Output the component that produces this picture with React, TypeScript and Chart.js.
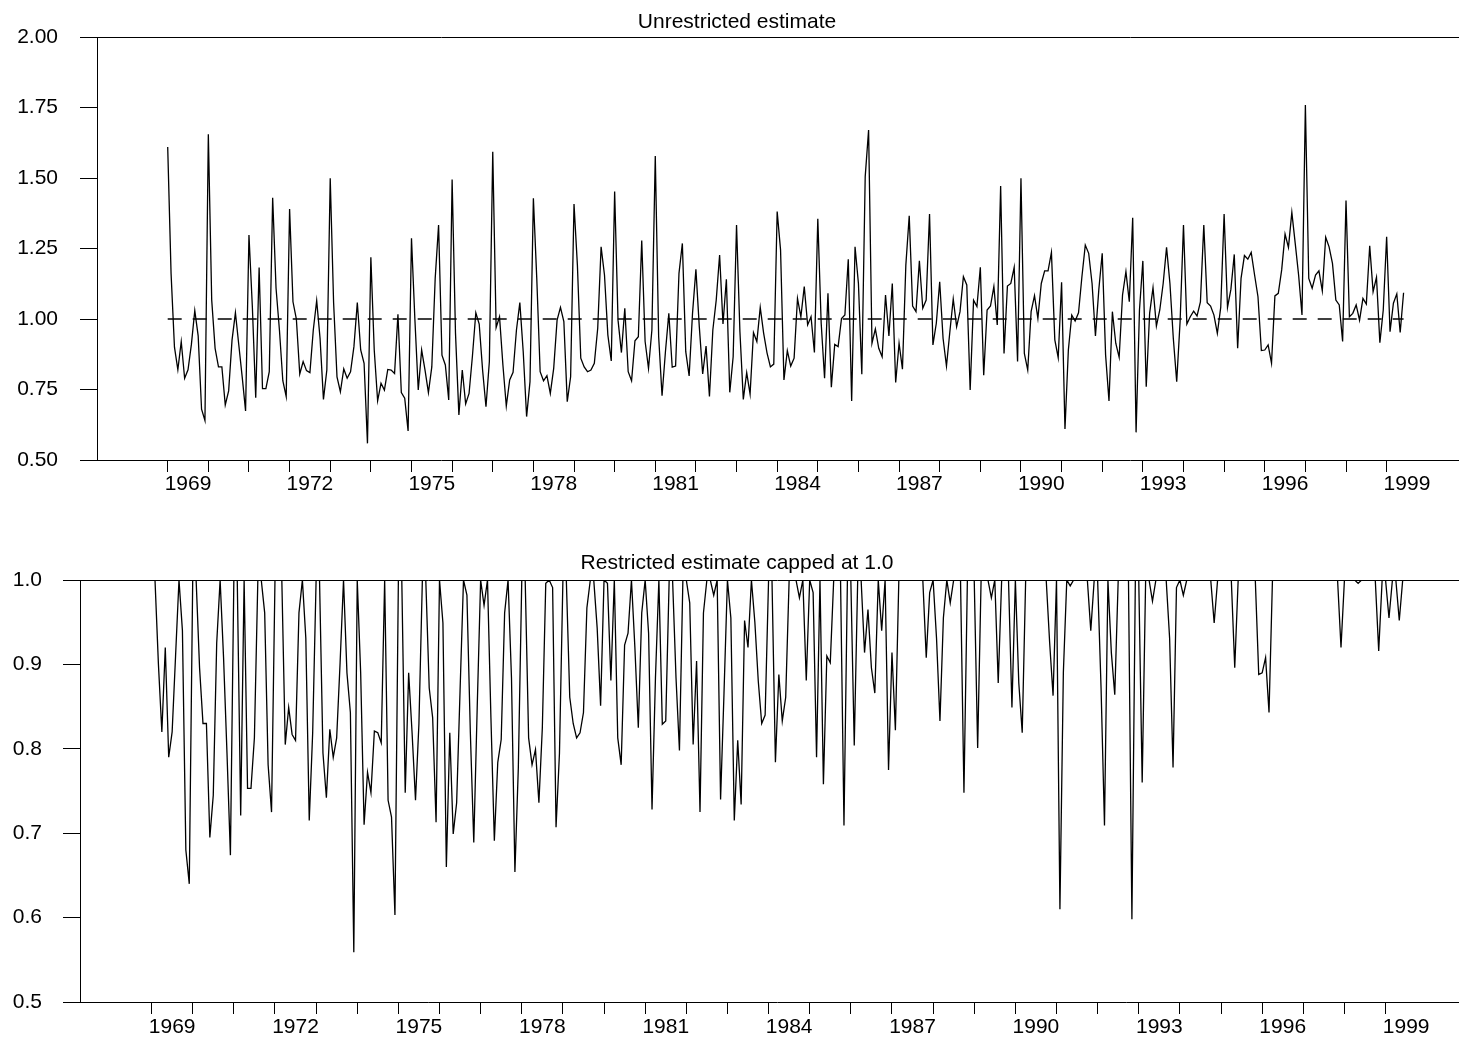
import React, { useEffect, useRef } from "react";
import { Chart, registerables } from "chart.js";

Chart.register(...registerables);

// ---------------- data ----------------
const START_YEAR = 1969; // first observation: January 1969, monthly series

// Unrestricted estimate, monthly Jan 1969 .. Jun 1999
const unrestricted: number[] = [
  // 1969
  1.61, 1.16, 0.9, 0.82, 0.92, 0.79, 0.82, 0.91, 1.03, 0.94, 0.68, 0.64,
  // 1970
  1.655, 1.067, 0.896, 0.83, 0.83, 0.695, 0.745, 0.925, 1.022, 0.908, 0.795, 0.674,
  // 1971
  1.298, 1.044, 0.721, 1.183, 0.753, 0.753, 0.813, 1.43, 1.109, 0.961, 0.781, 0.725,
  // 1972
  1.39, 1.061, 1.0, 0.805, 0.849, 0.817, 0.81, 0.961, 1.065, 0.931, 0.715, 0.819,
  // 1973
  1.499, 1.058, 0.795, 0.742, 0.823, 0.79, 0.813, 0.902, 1.058, 0.89, 0.843, 0.559,
  // 1974
  1.219, 0.89, 0.71, 0.772, 0.748, 0.821, 0.819, 0.807, 1.017, 0.739, 0.719, 0.603,
  // 1975
  1.286, 1.0, 0.748, 0.89, 0.819, 0.739, 0.83, 1.144, 1.333, 0.872, 0.837, 0.713,
  // 1976
  1.495, 0.949, 0.66, 0.819, 0.699, 0.736, 0.869, 1.022, 0.982, 0.819, 0.689, 0.849,
  // 1977
  1.593, 0.97, 1.008, 0.837, 0.691, 0.784, 0.811, 0.961, 1.058, 0.884, 0.654, 0.778,
  // 1978
  1.428, 1.144, 0.813, 0.781, 0.799, 0.736, 0.825, 0.996, 1.041, 0.991, 0.707, 0.795,
  // 1979
  1.408, 1.191, 0.861, 0.83, 0.813, 0.819, 0.843, 0.967, 1.256, 1.156, 0.943, 0.851,
  // 1980
  1.452, 0.996, 0.881, 1.038, 0.813, 0.781, 0.923, 0.937, 1.278, 0.92, 0.825, 0.961,
  // 1981
  1.578, 0.937, 0.728, 0.884, 1.02, 0.829, 0.833, 1.162, 1.268, 0.884, 0.798, 1.02,
  // 1982
  1.176, 0.973, 0.805, 0.904, 0.725, 0.961, 1.067, 1.227, 0.982, 1.141, 0.74, 0.866,
  // 1983
  1.333, 0.955, 0.715, 0.81, 0.734, 0.952, 0.92, 1.041, 0.95, 0.88, 0.83, 0.84,
  // 1984
  1.381, 1.245, 0.784, 0.888, 0.833, 0.861, 1.073, 1.008, 1.115, 0.979, 1.008, 0.881,
  // 1985
  1.355, 0.985, 0.79, 1.091, 0.758, 0.91, 0.902, 1.002, 1.014, 1.212, 0.709, 1.256,
  // 1986
  1.126, 0.804, 1.505, 1.67, 0.914, 0.965, 0.896, 0.866, 1.085, 0.94, 1.126, 0.775,
  // 1987
  0.914, 0.822, 1.191, 1.366, 1.046, 1.026, 1.206, 1.038, 1.067, 1.372, 0.908, 0.985,
  // 1988
  1.132, 0.931, 0.833, 0.955, 1.071, 0.973, 1.026, 1.15, 1.121, 0.748, 1.067, 1.044,
  // 1989
  1.183, 0.801, 1.032, 1.046, 1.115, 0.979, 1.472, 0.878, 1.117, 1.126, 1.183, 0.849,
  // 1990
  1.499, 0.878, 0.819, 1.026, 1.083, 1.002, 1.126, 1.171, 1.171, 1.236, 0.926, 0.863,
  // 1991
  1.13, 0.61, 0.89, 1.014, 0.993, 1.022, 1.15, 1.262, 1.233, 1.126, 0.94, 1.105,
  // 1992
  1.233, 0.872, 0.709, 1.026, 0.914, 0.864, 1.085, 1.168, 1.061, 1.359, 0.598, 1.032,
  // 1993
  1.206, 0.76, 1.02, 1.111, 0.975, 1.032, 1.126, 1.254, 1.126, 0.931, 0.778, 0.991,
  // 1994
  1.333, 0.982, 1.008, 1.028, 1.011, 1.061, 1.333, 1.058, 1.046, 1.014, 0.949, 1.041,
  // 1995
  1.372, 1.041, 1.105, 1.229, 0.896, 1.144, 1.225, 1.212, 1.236, 1.156, 1.079, 0.888,
  // 1996
  0.89, 0.908, 0.843, 1.082, 1.091, 1.174, 1.301, 1.254, 1.378, 1.268, 1.156, 1.014,
  // 1997
  1.759, 1.144, 1.109, 1.156, 1.171, 1.1, 1.29, 1.256, 1.197, 1.067, 1.05, 0.92,
  // 1998
  1.42, 1.008, 1.02, 1.05, 0.996, 1.073, 1.053, 1.26, 1.097, 1.148, 0.916, 1.032,
  // 1999
  1.292, 0.955, 1.056, 1.089, 0.952, 1.093,
];

// Restricted estimate: the same series capped at 1.0
const CAP = 1.0;
const restricted: number[] = unrestricted.map((v) => Math.min(v, CAP));

const REF_LEVEL = 1.0; // dashed reference line in the upper panel

const tickYears: number[] = [
  1969, 1970, 1971, 1972, 1973, 1974, 1975, 1976, 1977, 1978, 1979, 1980, 1981,
  1982, 1983, 1984, 1985, 1986, 1987, 1988, 1989, 1990, 1991, 1992, 1993, 1994,
  1995, 1996, 1997, 1998, 1999,
];
const labelYears: number[] = [1969, 1972, 1975, 1978, 1981, 1984, 1987, 1990, 1993, 1996, 1999];

const topYTicks: number[] = [0.5, 0.75, 1.0, 1.25, 1.5, 1.75, 2.0];
const bottomYTicks: number[] = [0.5, 0.6, 0.7, 0.8, 0.9, 1.0];

const TOP_TITLE = "Unrestricted estimate";
const BOTTOM_TITLE = "Restricted estimate capped at 1.0";

// ---------------- layout ----------------
const X_MIN = 1967.26;
const X_MAX = 2001.15;
const CANVAS_W = 1474;
const FONT_FAMILY = "'Liberation Sans', Arial, Helvetica, sans-serif";
const FONT_SIZE = 21;
const LINE_W = 1.3;

type PanelSpec = {
  title: string;
  values: number[];
  yMin: number;
  yMax: number;
  yTicks: number[];
  decimals: number;
  refLine: boolean;
  top: number;
  height: number;
  plotLeft: number;
  plotBottom: number;
  titlePadTop: number;
  titlePadBottom: number;
  yLabelPad: number;
  xLabelPad: number;
};

const panels: PanelSpec[] = [
  {
    title: TOP_TITLE,
    values: unrestricted,
    yMin: 0.5,
    yMax: 2.0,
    yTicks: topYTicks,
    decimals: 2,
    refLine: true,
    top: 0,
    height: 520,
    plotLeft: 97,
    plotBottom: 460,
    titlePadTop: 9.4,
    titlePadBottom: 2.4,
    yLabelPad: 22,
    xLabelPad: 0,
  },
  {
    title: BOTTOM_TITLE,
    values: restricted,
    yMin: 0.5,
    yMax: 1.0,
    yTicks: bottomYTicks,
    decimals: 1,
    refLine: false,
    top: 520,
    height: 519,
    plotLeft: 80,
    plotBottom: 482,
    titlePadTop: 30.4,
    titlePadBottom: 4.4,
    yLabelPad: 21,
    xLabelPad: 1,
  },
];

const isLabelTick = (v: number) => Math.abs(v - Math.floor(v) - 0.5) < 1e-6;

function xTickValues(): number[] {
  const out: number[] = [];
  for (const y of tickYears) {
    out.push(y);
    if (labelYears.includes(y)) out.push(y + 0.5);
  }
  return out;
}

function buildConfig(p: PanelSpec): any {
  const font = { family: FONT_FAMILY, size: FONT_SIZE, weight: "normal" as const };
  const series = p.values.map((v, i) => ({ x: START_YEAR + i / 12, y: v }));
  const lastX = START_YEAR + (p.values.length - 1) / 12;
  const datasets: any[] = [
    {
      data: series,
      borderColor: "#000",
      borderWidth: LINE_W,
      pointRadius: 0,
      pointHoverRadius: 0,
      fill: false,
      tension: 0,
    },
  ];
  if (p.refLine) {
    datasets.push({
      data: [
        { x: START_YEAR, y: REF_LEVEL },
        { x: lastX, y: REF_LEVEL },
      ],
      borderColor: "#000",
      borderWidth: LINE_W,
      borderDash: [14, 11],
      pointRadius: 0,
      fill: false,
    });
  }
  return {
    type: "line",
    data: { datasets },
    options: {
      animation: false,
      responsive: false,
      devicePixelRatio: 1,
      events: [],
      layout: { padding: { left: 0, right: 0, top: 0, bottom: 0 } },
      plugins: {
        legend: { display: false },
        tooltip: { enabled: false },
        title: {
          display: true,
          text: p.title,
          color: "#000",
          font: { ...font, lineHeight: 1.2 },
          padding: { top: p.titlePadTop, bottom: p.titlePadBottom },
        },
      },
      scales: {
        x: {
          type: "linear",
          position: "bottom",
          min: X_MIN,
          max: X_MAX,
          bounds: "data",
          afterBuildTicks: (axis: any) => {
            axis.ticks = xTickValues().map((v) => ({ value: v }));
          },
          afterFit: (s: any) => {
            s.height = p.height - p.plotBottom;
          },
          ticks: {
            autoSkip: false,
            maxRotation: 0,
            minRotation: 0,
            padding: p.xLabelPad,
            color: "#000",
            font,
            callback: (v: any) => (isLabelTick(Number(v)) ? String(Math.floor(Number(v))) : ""),
          },
          grid: {
            display: true,
            drawOnChartArea: false,
            drawTicks: true,
            tickLength: 12,
            color: "#000",
            tickColor: (ctx: any) =>
              ctx.tick && isLabelTick(ctx.tick.value) ? "rgba(0,0,0,0)" : "#000",
          },
          border: { display: true, color: "#000", width: 1 },
        },
        xTop: {
          type: "linear",
          position: "top",
          min: X_MIN,
          max: X_MAX,
          afterFit: (s: any) => {
            s.height = 0;
          },
          ticks: { display: false },
          grid: { display: false, drawTicks: false },
          border: { display: true, color: "#000", width: 1 },
        },
        y: {
          type: "linear",
          position: "left",
          min: p.yMin,
          max: p.yMax,
          afterBuildTicks: (axis: any) => {
            axis.ticks = p.yTicks.map((v) => ({ value: v }));
          },
          afterFit: (s: any) => {
            s.width = p.plotLeft;
          },
          ticks: {
            autoSkip: false,
            padding: p.yLabelPad,
            color: "#000",
            font,
            callback: (v: any) => Number(v).toFixed(p.decimals),
          },
          grid: {
            display: true,
            drawOnChartArea: false,
            drawTicks: true,
            tickLength: 17,
            color: "#000",
          },
          border: { display: true, color: "#000", width: 1 },
        },
      },
    },
  };
}

function PanelChart({ spec }: { spec: PanelSpec }) {
  const ref = useRef<HTMLCanvasElement | null>(null);
  useEffect(() => {
    if (!ref.current) return;
    const chart = new Chart(ref.current, buildConfig(spec));
    return () => chart.destroy();
  }, [spec]);
  return (
    <canvas
      ref={ref}
      width={CANVAS_W}
      height={spec.height}
      style={{
        position: "absolute",
        left: 0,
        top: spec.top,
        width: CANVAS_W,
        height: spec.height,
        display: "block",
      }}
    />
  );
}

export default function App() {
  return (
    <div
      style={{
        position: "fixed",
        left: 0,
        top: 0,
        width: 1459,
        height: 1039,
        overflow: "hidden",
        background: "#fff",
      }}
    >
      {panels.map((p) => (
        <PanelChart key={p.title} spec={p} />
      ))}
    </div>
  );
}
